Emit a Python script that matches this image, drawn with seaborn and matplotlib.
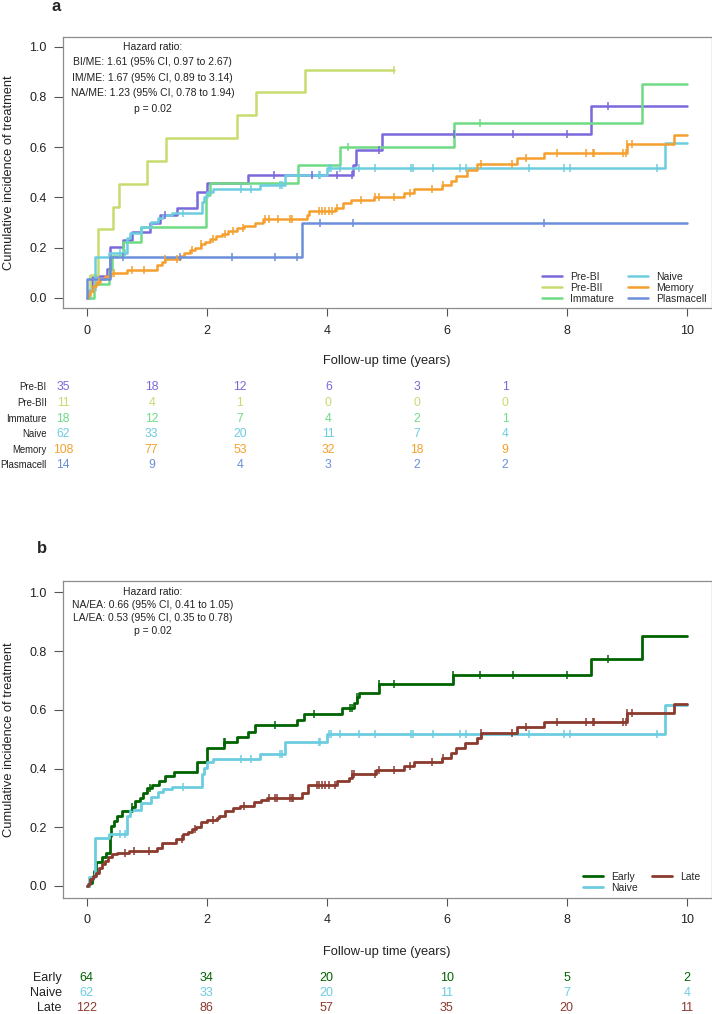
import matplotlib
matplotlib.use("Agg")
import matplotlib.pyplot as plt
import seaborn as sns
import numpy as np
import pandas as pd
from matplotlib.lines import Line2D
from matplotlib.ticker import FormatStrFormatter

# ---------------- panel a: B-cell subsets ----------------
a_groups = ["Pre-BI", "Pre-BII", "Immature", "Naive", "Memory", "Plasmacell"]
a_colors = ["#7b68db", "#c6dc6f", "#6fdb84", "#6dcde0", "#f5a02e", "#6c8fda"]

prebi_t = [0.03, 0.08, 0.33, 0.38, 0.6, 0.75, 1.05, 1.22, 1.5, 1.83, 2.0, 2.69, 4.44, 4.48, 4.92, 8.39]
prebi_y = [0.029, 0.086, 0.114, 0.204, 0.23, 0.262, 0.297, 0.33, 0.359, 0.42, 0.458, 0.49, 0.53, 0.588, 0.652, 0.766]
prebi_cens = [1.3, 3.12, 3.75, 4.17, 4.42, 4.86, 6.11, 7.09, 8.0, 8.68]

prebii_t = [0.06, 0.18, 0.44, 0.53, 1.0, 1.32, 2.5, 2.82, 3.63]
prebii_y = [0.091, 0.273, 0.364, 0.455, 0.545, 0.636, 0.727, 0.818, 0.909]
prebii_cens = [5.11]
prebii_end = 5.11

immature_t = [0.12, 0.37, 0.42, 0.6, 0.9, 1.98, 2.05, 3.52, 4.22, 6.11, 9.25]
immature_y = [0.056, 0.111, 0.167, 0.222, 0.283, 0.41, 0.458, 0.528, 0.6, 0.697, 0.85]
immature_cens = [4.35, 6.54]

naive_t = [0.04, 0.14, 0.37, 0.67, 0.72, 0.9, 1.07, 1.18, 1.27, 1.42, 1.92, 1.95, 2.0, 2.1, 2.89, 3.3, 4.0, 9.63]
naive_y = [0.03, 0.164, 0.178, 0.237, 0.26, 0.283, 0.303, 0.32, 0.33, 0.337, 0.383, 0.403, 0.423, 0.432, 0.449, 0.489, 0.518, 0.615]
naive_cens = [0.56, 0.64, 1.61, 2.56, 2.73, 3.22, 3.25, 3.86, 3.89, 4.03, 4.06, 4.22, 4.53, 4.8,
              5.39, 5.43, 5.77, 6.21, 6.32, 7.36, 7.95, 8.05, 9.5]

memory_t = [0.02, 0.06, 0.1, 0.15, 0.22, 0.3, 0.4, 0.67, 1.17, 1.25, 1.3, 1.55, 1.62, 1.72, 1.8, 1.9,
            1.97, 2.05, 2.15, 2.25, 2.35, 2.5, 2.61, 2.8, 2.94, 3.67, 3.7, 4.14, 4.27, 4.4, 4.78, 5.28,
            5.44, 5.92, 6.06, 6.15, 6.33, 6.5, 7.17, 7.61, 9.0, 9.78]
memory_y = [0.01, 0.028, 0.046, 0.065, 0.075, 0.088, 0.1, 0.111, 0.13, 0.145, 0.155, 0.168, 0.18, 0.19,
            0.2, 0.213, 0.223, 0.233, 0.245, 0.255, 0.268, 0.28, 0.286, 0.3, 0.313, 0.33, 0.347, 0.357,
            0.376, 0.39, 0.4, 0.416, 0.433, 0.45, 0.466, 0.485, 0.509, 0.535, 0.558, 0.578, 0.611, 0.648]
memory_cens = [0.2, 0.45, 0.75, 0.95, 1.3, 1.5, 1.75, 1.9, 2.1, 2.3, 2.44, 2.6, 2.97, 3.03, 3.19, 3.39,
               3.42, 3.86, 3.92, 3.97, 4.03, 4.08, 4.17, 4.56, 4.8, 4.86, 5.11, 5.38, 5.75, 5.93, 6.56,
               7.08, 7.31, 7.83, 8.31, 8.43, 8.45, 8.92, 8.97, 9.0, 9.07]

plasma_t = [0.01, 0.39, 3.58]
plasma_y = [0.077, 0.164, 0.30]
plasma_cens = [0.61, 1.55, 2.42, 3.14, 3.5, 3.89, 4.44, 7.61]

# ---------------- panel b: early / naive / late ----------------
b_groups = ["Early", "Naive", "Late"]
b_colors = ["#006400", "#6dcde0", "#8b3a2e"]

early_t = [0.03, 0.08, 0.12, 0.15, 0.25, 0.32, 0.39, 0.4, 0.45, 0.5, 0.58, 0.75, 0.8, 0.88, 0.93, 1.0,
           1.08, 1.2, 1.3, 1.45, 1.83, 2.0, 2.28, 2.5, 2.69, 2.8, 3.5, 3.61, 4.25, 4.45, 4.5, 4.53,
           4.86, 6.1, 8.39, 9.25]
early_y = [0.011, 0.03, 0.05, 0.08, 0.1, 0.113, 0.17, 0.204, 0.22, 0.238, 0.255, 0.27, 0.289, 0.3,
           0.317, 0.334, 0.345, 0.356, 0.374, 0.387, 0.424, 0.47, 0.489, 0.509, 0.526, 0.547, 0.566,
           0.585, 0.606, 0.625, 0.645, 0.657, 0.687, 0.719, 0.774, 0.85]
early_cens = [0.75, 1.05, 2.28, 2.3, 3.14, 3.78, 4.38, 4.42, 4.5, 4.86, 5.11, 6.1, 6.54, 7.09, 8.0, 8.68]

late_t = [0.02, 0.06, 0.1, 0.15, 0.2, 0.25, 0.3, 0.35, 0.42, 0.5, 0.7, 1.17, 1.25, 1.48, 1.6, 1.68,
          1.75, 1.82, 1.9, 2.0, 2.17, 2.2, 2.3, 2.44, 2.55, 2.78, 2.9, 3.0, 3.58, 3.69, 4.17, 4.36,
          4.42, 4.81, 5.28, 5.44, 5.92, 6.06, 6.14, 6.3, 6.5, 6.56, 7.17, 7.61, 9.0, 9.78]
late_y = [0.008, 0.023, 0.035, 0.045, 0.06, 0.075, 0.085, 0.1, 0.108, 0.113, 0.118, 0.13, 0.147,
          0.161, 0.178, 0.185, 0.193, 0.2, 0.217, 0.225, 0.232, 0.238, 0.255, 0.266, 0.272, 0.285,
          0.292, 0.3, 0.317, 0.345, 0.357, 0.368, 0.382, 0.396, 0.41, 0.424, 0.436, 0.453, 0.47,
          0.487, 0.504, 0.521, 0.54, 0.558, 0.589, 0.62]
late_cens = [0.64, 0.78, 1.03, 1.58, 1.8, 2.11, 2.61, 3.03, 3.14, 3.17, 3.39, 3.42, 3.44, 3.83, 3.86,
             3.92, 3.97, 4.03, 4.14, 4.42, 4.45, 4.8, 4.86, 5.11, 5.38, 5.75, 5.93, 6.56, 7.08, 7.31,
             7.83, 8.31, 8.43, 8.45, 8.92, 8.97, 9.0, 9.07]

# ---------------- numbers at risk ----------------
risk_times = [0, 2, 4, 6, 8, 10]
risk_prebi = [35, 18, 12, 6, 3, 1]
risk_prebii = [11, 4, 1, 0, 0, 0]
risk_immature = [18, 12, 7, 4, 2, 1]
risk_naive = [62, 33, 20, 11, 7, 4]
risk_memory = [108, 77, 53, 32, 18, 9]
risk_plasma = [14, 9, 4, 3, 2, 2]
risk_early = [64, 34, 20, 10, 5, 2]
risk_late = [122, 86, 57, 35, 20, 11]

hr_a = ["Hazard ratio:",
        "BI/ME: 1.61 (95% CI, 0.97 to 2.67)",
        "IM/ME: 1.67 (95% CI, 0.89 to 3.14)",
        "NA/ME: 1.23 (95% CI, 0.78 to 1.94)",
        "p = 0.02"]
hr_b = ["Hazard ratio:",
        "NA/EA: 0.66 (95% CI, 0.41 to 1.05)",
        "LA/EA: 0.53 (95% CI, 0.35 to 0.78)",
        "p = 0.02"]

sns.set_style("ticks")
plt.rcParams["font.family"] = ["Liberation Sans", "DejaVu Sans"]

TXT = "#222222"
W, H = 712, 1014
fig = plt.figure(figsize=(W / 100, H / 100), dpi=100)


def fx(px):
    return px / W


def fy(py):
    return 1 - py / H


def step_frame(name, times, vals, end):
    x = [0.0] + list(times) + [end]
    y = [0.0] + list(vals) + [vals[-1]]
    return pd.DataFrame({"time": x, "cuminc": y, "group": name})


def draw_panel(ax, curves, names, colors, lw):
    df = pd.concat([step_frame(n, t, v, e) for n, t, v, e, c in curves], ignore_index=True)
    sns.lineplot(data=df, x="time", y="cuminc", hue="group", hue_order=names,
                 palette=dict(zip(names, colors)), drawstyle="steps-post",
                 estimator=None, sort=False, legend=False, linewidth=lw, ax=ax)
    # censoring ticks sit on the step curve
    for (n, t, v, e, cens), col in zip(curves, colors):
        xs = np.array([0.0] + list(t))
        ys = np.array([0.0] + list(v))
        idx = np.searchsorted(xs, cens, side="right") - 1
        ax.plot(cens, ys[idx], ls="none", marker="|", ms=6, mew=1.1, color=col)

    ax.set_xlim(-0.4, 10.4)
    ax.set_ylim(-0.04, 1.04)
    ax.set_xticks([0, 2, 4, 6, 8, 10])
    ax.set_yticks(np.arange(0, 1.01, 0.2))
    ax.yaxis.set_major_formatter(FormatStrFormatter("%.1f"))
    for s in ax.spines.values():
        s.set_visible(True)
        s.set_color("#8c8c8c")
        s.set_linewidth(0.9)
    ax.tick_params(axis="x", length=6, width=0.8, pad=6, color="#555555",
                   labelsize=9, labelcolor=TXT)
    ax.tick_params(axis="y", length=6.7, width=0.8, pad=5, color="#555555",
                   labelsize=9, labelcolor=TXT)
    ax.set_xlabel("Follow-up time (years)", fontsize=9.3, color=TXT)
    ax.set_ylabel("Cumulative incidence of treatment", fontsize=9.3, color=TXT)
    handles = [Line2D([0], [0], color=c, lw=lw) for c in colors]
    return handles


legend_kw = dict(ncol=2, loc="lower right", frameon=False, fontsize=7.5, handlelength=1.95,
                 handletextpad=0.8, columnspacing=1.3, labelspacing=0.12, borderpad=0,
                 borderaxespad=0)

# ---------------- panel a ----------------
ax_a = fig.add_axes([fx(62.7), fy(308), fx(648.8), 271.3 / H])
curves_a = [
    ("Pre-BI", prebi_t, prebi_y, 10, prebi_cens),
    ("Pre-BII", prebii_t, prebii_y, prebii_end, prebii_cens),
    ("Immature", immature_t, immature_y, 10, immature_cens),
    ("Naive", naive_t, naive_y, 10, naive_cens),
    ("Memory", memory_t, memory_y, 10, memory_cens),
    ("Plasmacell", plasma_t, plasma_y, 10, plasma_cens),
]
h_a = draw_panel(ax_a, curves_a, a_groups, a_colors, 1.8)
ax_a.legend(h_a, a_groups, bbox_to_anchor=(0.9931, 0.0147), **legend_kw)
ax_a.yaxis.set_label_coords((15 - 62.7) / 648.8, 0.5)
ax_a.xaxis.set_label_coords(0.5, (308 - 355) / 271.3)

for i, line in enumerate(hr_a):
    fig.text(fx(152.7), fy(46.7 + 15.6 * i), line, ha="center", va="center",
             fontsize=7.5, color=TXT)

# risk table a (its own scale, narrower than the plot; row names squeezed)
tab_a = fig.add_axes([fx(63.3), fy(473.3), fx(441.7), 93.6 / H])
tab_a.set_xlim(0, 10)
tab_a.set_ylim(5.5, -0.5)
tab_a.axis("off")
risk_a = [risk_prebi, risk_prebii, risk_immature, risk_naive, risk_memory, risk_plasma]
for r, (name, counts, col) in enumerate(zip(a_groups, risk_a, a_colors)):
    tab_a.text(-0.38, r, name, ha="right", va="center", fontsize=6.9, color=TXT)
    for t, n in zip(risk_times, counts):
        tab_a.text(t, r, str(n), ha="center", va="center", fontsize=8.7, color=col)

# ---------------- panel b ----------------
ax_b = fig.add_axes([fx(62.7), fy(897.7), fx(648.8), 317 / H])
curves_b = [
    ("Early", early_t, early_y, 10, early_cens),
    ("Naive", naive_t, naive_y, 10, naive_cens),
    ("Late", late_t, late_y, 10, late_cens),
]
h_b = draw_panel(ax_b, curves_b, b_groups, b_colors, 2.0)
ax_b.legend(h_b, b_groups, bbox_to_anchor=(0.9834, 0.0148), **legend_kw)
ax_b.yaxis.set_label_coords((15 - 62.7) / 648.8, 0.5)
ax_b.xaxis.set_label_coords(0.5, (897.7 - 946) / 317)

for i, line in enumerate(hr_b):
    fig.text(fx(152.7), fy(592.3 + 12.9 * i), line, ha="center", va="center",
             fontsize=7.5, color=TXT)

tab_b = fig.add_axes([fx(86.7), fy(1015.8), fx(600), 45 / H])
tab_b.set_xlim(0, 10)
tab_b.set_ylim(2.5, -0.5)
tab_b.axis("off")
risk_b = [risk_early, risk_naive, risk_late]
for r, (name, counts, col) in enumerate(zip(b_groups, risk_b, b_colors)):
    tab_b.text(-0.417, r, name, ha="right", va="center", fontsize=9, color=TXT)
    for t, n in zip(risk_times, counts):
        tab_b.text(t, r, str(n), ha="center", va="center", fontsize=9, color=col)

fig.text(fx(56), fy(11), "a", fontsize=12, fontweight="bold", ha="center", va="baseline")
fig.text(fx(41.5), fy(553), "b", fontsize=12, fontweight="bold", ha="center", va="baseline")

fig.savefig("out.png", dpi=100)
